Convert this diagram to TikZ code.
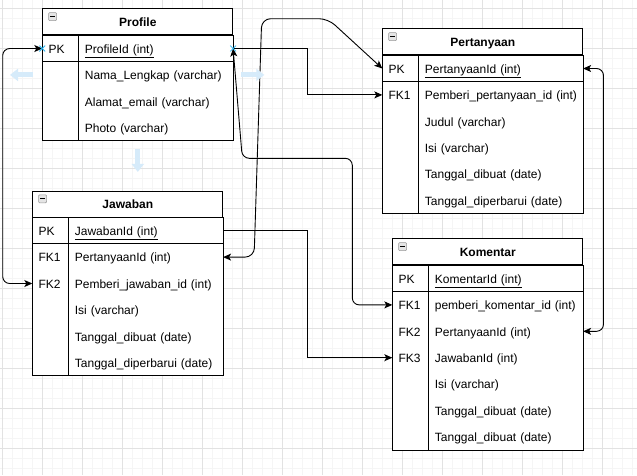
\documentclass[tikz,border=0pt]{standalone}
\usepackage{fontspec}
\setmainfont{Liberation Sans}
\usetikzlibrary{arrows.meta,positioning,shapes.misc,backgrounds}
\definecolor{gridmajor}{RGB}{226,226,226}
\definecolor{gridminor}{RGB}{245,245,245}
\definecolor{hoverblue}{RGB}{214,235,250}
\definecolor{pinblue}{RGB}{41,182,242}
\newcommand{\erfont}{\fontsize{12}{14}\selectfont}

\begin{document}
\begin{tikzpicture}[x=1pt, y=-1pt,
  tabletitle/.style={draw, fill=white, line width=1pt, anchor=north west, minimum width=190pt, minimum height=26pt, inner sep=0pt, text height=12.5pt, text depth=3pt, font=\erfont\bfseries},
  keycell/.style={anchor=north west, text width=24pt, inner xsep=6pt, inner ysep=0pt, minimum height=26pt, text height=12.5pt, text depth=3pt, align=left, font=\erfont},
  fieldcell/.style={keycell, text width=142pt},
  widecell/.style={keycell, text width=152pt},
  tableframe/.style={line width=1pt},
  fklink/.style={line width=0.9pt, -{Stealth[length=8pt,width=7pt,inset=2pt]}},
  bothlink/.style={line width=0.9pt, {Stealth[length=8pt,width=7pt,inset=2pt]}-{Stealth[length=8pt,width=7pt,inset=2pt]}, rounded corners=7pt},
  collapsebox/.style={draw=gray!80, fill=gray!20, rounded corners=1pt, line width=0.6pt, anchor=north west, minimum size=8pt, inner sep=0pt},
  hoverarrow/.style={hoverblue, line width=5pt, -{Triangle[length=8pt,width=12pt]}},
  pinmark/.style={draw=pinblue, cross out, line width=0.8pt, minimum size=5pt, inner sep=0pt}
]
\useasboundingbox (0,0) rectangle (637,475);

% grid
\begin{scope}[on background layer]
  \fill[white] (0,0) rectangle (637,475);
  \foreach \gx in {2.3,12.3,...,632.3} \draw[gridminor, line width=1pt] (\gx,0) -- (\gx,475);
  \foreach \gy in {8.3,18.3,...,468.3} \draw[gridminor, line width=1pt] (0,\gy) -- (637,\gy);
  \foreach \gx in {2.3,42.3,...,602.3} \draw[gridmajor, line width=1pt] (\gx,0) -- (\gx,475);
  \foreach \gy in {8.3,48.3,...,448.3} \draw[gridmajor, line width=1pt] (0,\gy) -- (637,\gy);
\end{scope}

% Profile
\node[tabletitle] (prof) at (42.3,8.3) {Profile};
\node[collapsebox] (prof-icon) at ([shift={(6,4)}]prof.north west) {\rule{4.5pt}{1.3pt}};
\node[keycell] (prof-pkk) at (prof.south west) {PK};
\node[fieldcell] (prof-pk) at (prof-pkk.north east) {\underline{ProfileId (int)}};
\node[fieldcell] (prof-f1) at (prof-pk.south west) {Nama\_Lengkap (varchar)};
\node[fieldcell] (prof-f2) at (prof-f1.south west) {Alamat\_email (varchar)};
\node[fieldcell] (prof-f3) at (prof-f2.south west) {Photo (varchar)};
\begin{scope}[on background layer]
  \fill[white] (prof.south west) rectangle (prof-f3.south east);
\end{scope}
\draw[tableframe] (prof.south west) rectangle (prof-f3.south east);
\draw[tableframe] (prof-pkk.south west) -- (prof-pk.south east);
\draw[tableframe] (prof-pkk.north east) -- (prof-pkk.north east |- prof-f3.south);

% Pertanyaan
\node[tabletitle, minimum width=200pt] (pert) at (382.3,28.3) {Pertanyaan};
\node[collapsebox] (pert-icon) at ([shift={(6,4)}]pert.north west) {\rule{4.5pt}{1.3pt}};
\node[keycell] (pert-pkk) at (pert.south west) {PK};
\node[widecell] (pert-pk) at (pert-pkk.north east) {\underline{PertanyaanId (int)}};
\node[keycell] (pert-fk1k) at (pert-pkk.south west) {FK1};
\node[widecell] (pert-fk1) at (pert-pk.south west) {\mbox{Pemberi\_pertanyaan\_id (int)}};
\node[widecell] (pert-f2) at (pert-fk1.south west) {Judul (varchar)};
\node[widecell] (pert-f3) at (pert-f2.south west) {Isi (varchar)};
\node[widecell] (pert-f4) at (pert-f3.south west) {Tanggal\_dibuat (date)};
\node[widecell] (pert-f5) at (pert-f4.south west) {Tanggal\_diperbarui (date)};
\begin{scope}[on background layer]
  \fill[white] (pert.south west) rectangle (pert-f5.south east);
\end{scope}
\draw[tableframe] (pert.south west) rectangle (pert-f5.south east);
\draw[tableframe] (pert-pkk.south west) -- (pert-pk.south east);
\draw[tableframe] (pert-pkk.north east) -- (pert-pkk.north east |- pert-f5.south);

% Jawaban
\node[tabletitle] (jaw) at (32.3,190.5) {Jawaban};
\node[collapsebox] (jaw-icon) at ([shift={(6,4)}]jaw.north west) {\rule{4.5pt}{1.3pt}};
\node[keycell] (jaw-pkk) at (jaw.south west) {PK};
\node[fieldcell] (jaw-pk) at (jaw-pkk.north east) {\underline{JawabanId (int)}};
\node[keycell] (jaw-fk1k) at (jaw-pkk.south west) {FK1};
\node[fieldcell] (jaw-fk1) at (jaw-pk.south west) {PertanyaanId (int)};
\node[keycell] (jaw-fk2k) at (jaw-fk1k.south west) {FK2};
\node[fieldcell] (jaw-fk2) at (jaw-fk1.south west) {Pemberi\_jawaban\_id (int)};
\node[fieldcell] (jaw-f3) at (jaw-fk2.south west) {Isi (varchar)};
\node[fieldcell] (jaw-f4) at (jaw-f3.south west) {Tanggal\_dibuat (date)};
\node[fieldcell] (jaw-f5) at (jaw-f4.south west) {Tanggal\_diperbarui (date)};
\begin{scope}[on background layer]
  \fill[white] (jaw.south west) rectangle (jaw-f5.south east);
\end{scope}
\draw[tableframe] (jaw.south west) rectangle (jaw-f5.south east);
\draw[tableframe] (jaw-pkk.south west) -- (jaw-pk.south east);
\draw[tableframe] (jaw-pkk.north east) -- (jaw-pkk.north east |- jaw-f5.south);

% Komentar
\node[tabletitle] (kom) at (392.3,238.3) {Komentar};
\node[collapsebox] (kom-icon) at ([shift={(6,4)}]kom.north west) {\rule{4.5pt}{1.3pt}};
\node[keycell] (kom-pkk) at (kom.south west) {PK};
\node[fieldcell] (kom-pk) at (kom-pkk.north east) {\underline{KomentarId (int)}};
\node[keycell] (kom-fk1k) at (kom-pkk.south west) {FK1};
\node[fieldcell] (kom-fk1) at (kom-pk.south west) {pemberi\_komentar\_id (int)};
\node[keycell] (kom-fk2k) at (kom-fk1k.south west) {FK2};
\node[fieldcell] (kom-fk2) at (kom-fk1.south west) {PertanyaanId (int)};
\node[keycell] (kom-fk3k) at (kom-fk2k.south west) {FK3};
\node[fieldcell] (kom-fk3) at (kom-fk2.south west) {JawabanId (int)};
\node[fieldcell] (kom-f4) at (kom-fk3.south west) {Isi (varchar)};
\node[fieldcell] (kom-f5) at (kom-f4.south west) {Tanggal\_dibuat (date)};
\node[fieldcell] (kom-f6) at (kom-f5.south west) {Tanggal\_dibuat (date)};
\begin{scope}[on background layer]
  \fill[white] (kom.south west) rectangle (kom-f6.south east);
\end{scope}
\draw[tableframe] (kom.south west) rectangle (kom-f6.south east);
\draw[tableframe] (kom-pkk.south west) -- (kom-pk.south east);
\draw[tableframe] (kom-pkk.north east) -- (kom-pkk.north east |- kom-f6.south);

% relations
\draw[bothlink] (prof-pkk.west) -- ++(-39.6,0) |- (jaw-fk2k.west);
\draw[fklink] (prof-pk.east) -- ++(74.4,0) |- (pert-fk1k.west);
\draw[bothlink] (prof-pk.east) -- (242.3,158.3) -- (352.3,158.3) |- (kom-fk1k.west);
\draw[bothlink, rounded corners=9pt] (jaw-fk1.east) -- ++(31,0) -- (261.7,18.7) -- (328,18.7) -- (pert-pkk.west);
\draw[fklink] (jaw-pk.east) -- ++(84.4,0) |- (kom-fk3k.west);
\draw[bothlink] (pert-pk.east) -- ++(20.4,0) |- (kom-fk2.east);

% hover handles
\coordinate (prof-left) at (prof.west |- prof-f1);
\coordinate (prof-right) at (prof.east |- prof-f1);
\coordinate (prof-bottom) at (prof |- prof-f3.south);
\draw[hoverarrow] ([xshift=-9.3pt]prof-left) -- ++(-23,0);
\draw[hoverarrow] ([xshift=8pt]prof-right) -- ++(23,0);
\draw[hoverarrow] ([yshift=-8pt]prof-bottom) -- ++(0,23);
\node[pinmark] (pin-l) at (prof-pkk.west) {};
\node[pinmark] (pin-r) at (prof-pk.east) {};

\end{tikzpicture}
\end{document}
